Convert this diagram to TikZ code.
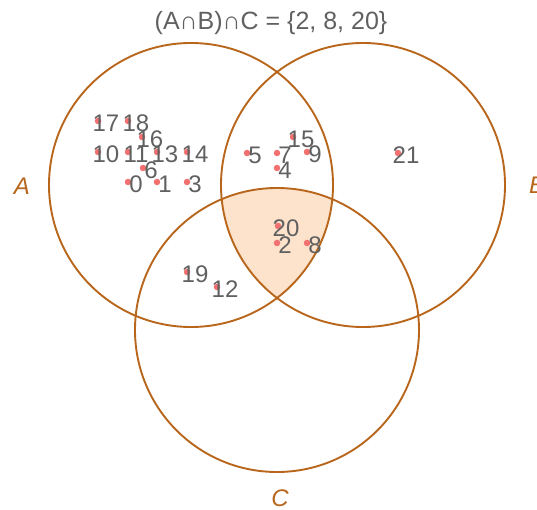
\documentclass[tikz,border=0pt]{standalone}
\usepackage{fontspec}
\setmainfont{Liberation Sans}
\usetikzlibrary{positioning}
\definecolor{setline}{RGB}{184,102,28}
\definecolor{capfill}{RGB}{253,226,204}
\definecolor{ptred}{RGB}{242,112,112}
\definecolor{txtgray}{RGB}{96,96,96}
\tikzset{
  setc/.style  = {draw=setline, line width=1.9pt},
  plab/.style  = {font=\fontsize{24}{28}\selectfont, text=txtgray, inner sep=0pt,
                  anchor=base, xshift=8pt, yshift=-2pt},
  pt/.style    = {circle, fill=ptred, inner sep=0pt, minimum size=6.5pt,
                  label={[plab]center:#1}},
  slab/.style  = {font=\fontsize{24}{28}\selectfont\itshape, text=setline, inner sep=0pt},
  ttl/.style   = {font=\fontsize{25}{30}\selectfont, text=txtgray, inner sep=0pt},
}

\begin{document}
\begin{tikzpicture}[x=1pt, y=-1pt]
\useasboundingbox (0,0) rectangle (537,510);

\coordinate (cA) at (191,185);
\coordinate (cB) at (363,185);
\coordinate (cC) at (277,330);

% (A cap B) cap C
\begin{scope}
  \clip (cA) circle[radius=142pt];
  \clip (cB) circle[radius=142pt];
  \fill[capfill] (cC) circle[radius=142pt];
\end{scope}

\draw[setc] (cA) circle[radius=142pt];
\draw[setc] (cB) circle[radius=142pt];
\draw[setc] (cC) circle[radius=142pt];

\node[slab] (labA) at (22,186)  {A};
\node[slab] (labB) at (537,185) {B};
\node[slab] (labC) at (280,498) {C};

\node[ttl] (title) at (271,23) {(A∩B)∩C = \{2, 8, 20\}};

% only A
\node[pt=17] (p17) at (98,121)  {};
\node[pt=18] (p18) at (128,121) {};
\node[pt=16] (p16) at (142,137) {};
\node[pt=10] (p10) at (98,152)  {};
\node[pt=11] (p11) at (128,152) {};
\node[pt=13] (p13) at (157,152) {};
\node[pt=14] (p14) at (187,152) {};
\node[pt=6]  (p6)  at (143,168) {};
\node[pt=0]  (p0)  at (128,182) {};
\node[pt=1]  (p1)  at (157,182) {};
\node[pt=3]  (p3)  at (187,182) {};
% A and B
\node[pt=5]  (p5)  at (247,153) {};
\node[pt=7]  (p7)  at (277,153) {};
\node[pt=15] (p15) at (293,137) {};
\node[pt=9]  (p9)  at (307,152) {};
\node[pt=4]  (p4)  at (277,168) {};
% only B
\node[pt=21] (p21) at (398,153) {};
% A, B and C
\node[pt=20] (p20) at (278,226) {};
\node[pt=2]  (p2)  at (277,243) {};
\node[pt=8]  (p8)  at (307,243) {};
% A and C
\node[pt=19] (p19) at (187,272) {};
\node[pt=12] (p12) at (217,287) {};
\end{tikzpicture}
\end{document}
